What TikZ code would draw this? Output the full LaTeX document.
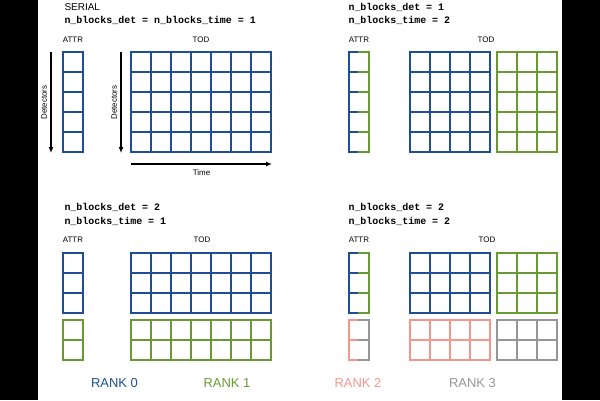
\documentclass[tikz,border=0pt]{standalone}
\usepackage{fontspec}
\setmainfont{Liberation Sans}
\setmonofont{Liberation Mono}
\usetikzlibrary{arrows.meta}

\definecolor{rankzero}{RGB}{31,78,150}
\definecolor{rankone}{RGB}{106,153,52}
\definecolor{ranktwo}{RGB}{243,150,140}
\definecolor{rankthree}{RGB}{150,150,150}

\newcommand{\cs}{20}
\newcommand{\hc}{10}

% colour, left, top, columns, rows
\newcommand{\blockgrid}[5]{
  \foreach \ci in {0,...,#4}{
    \draw[cell,#1] ({#2+\ci*\cs},#3) -- ++(0,{#5*\cs});
  }
  \foreach \ri in {0,...,#5}{
    \draw[cell,#1] (#2,{#3+\ri*\cs}) -- ++({#4*\cs},0);
  }
}

% left colour, right colour, left, top, rows
\newcommand{\splitcol}[5]{
  \draw[cell,#1] (#3,#4) -- (#3,{#4+#5*\cs});
  \draw[cell,#2] ({#3+\cs},#4) -- ({#3+\cs},{#4+#5*\cs});
  \foreach \ri in {0,...,#5}{
    \draw[cell,#1] (#3,{#4+\ri*\cs}) -- ++(\hc,0);
    \draw[cell,#2] ({#3+\hc},{#4+\ri*\cs}) -- ++(\hc,0);
  }
}

\tikzset{
  cell/.style={line width=2bp, line cap=rect},
  title/.style={anchor=west, font=\fontsize{10}{12}\selectfont},
  param/.style={anchor=west, font=\fontsize{10}{12}\selectfont\ttfamily\bfseries},
  small/.style={font=\fontsize{8}{9}\selectfont},
  rank/.style={font=\fontsize{13}{15}\selectfont},
  axis/.style={-{Latex[length=6pt,width=5pt]}, line width=1.4bp}
}

\begin{document}
\begin{tikzpicture}[x=1bp,y=-1bp]
    \useasboundingbox (0,0) rectangle (600,400);
    \fill[black] (0,0) rectangle (38,400);
    \fill[black] (562,0) rectangle (600,400);

    % serial
    \node[title] (serial) at (61,7) {SERIAL};
    \node[param] (serialpar) at (61,20.5) {n\_blocks\_det = n\_blocks\_time = 1};
    \node[small] (attrA) at (73,39.5) {ATTR};
    \node[small] (todA) at (201,39.5) {TOD};
    \blockgrid{rankzero}{63}{52}{1}{5}
    \blockgrid{rankzero}{131}{52}{7}{5}
    \coordinate (detAtop) at (51,52);
    \coordinate (detAbot) at (51,153);
    \draw[axis] (detAtop) -- (detAbot) node[midway, rotate=90, anchor=south, small]{Detectors};
    \coordinate (detBtop) at (121,52);
    \coordinate (detBbot) at (121,153);
    \draw[axis] (detBtop) -- (detBbot) node[midway, rotate=90, anchor=south, small]{Detectors};
    \coordinate (timeleft) at (131,164);
    \coordinate (timeright) at (272,164);
    \draw[axis] (timeleft) -- (timeright) node[midway, below=2pt, small]{Time};

    % 1 x 2
    \node[param] (pardetB) at (345,7) {n\_blocks\_det = 1};
    \node[param] (partimeB) at (345,20.5) {n\_blocks\_time = 2};
    \node[small] (attrB) at (359,39.5) {ATTR};
    \node[small] (todB) at (486,39.5) {TOD};
    \splitcol{rankzero}{rankone}{349}{52}{5}
    \blockgrid{rankzero}{410}{52}{4}{5}
    \blockgrid{rankone}{497}{52}{3}{5}

    % 2 x 1
    \node[param] (pardetC) at (61,207) {n\_blocks\_det = 2};
    \node[param] (partimeC) at (61,221) {n\_blocks\_time = 1};
    \node[small] (attrC) at (73,240) {ATTR};
    \node[small] (todC) at (202,240) {TOD};
    \blockgrid{rankzero}{63}{253}{1}{3}
    \blockgrid{rankone}{63}{320}{1}{2}
    \blockgrid{rankzero}{131}{253}{7}{3}
    \blockgrid{rankone}{131}{320}{7}{2}

    % 2 x 2
    \node[param] (pardetD) at (345,207) {n\_blocks\_det = 2};
    \node[param] (partimeD) at (345,221) {n\_blocks\_time = 2};
    \node[small] (attrD) at (359,240) {ATTR};
    \node[small] (todD) at (487,240) {TOD};
    \splitcol{rankzero}{rankone}{349}{253}{3}
    \splitcol{ranktwo}{rankthree}{349}{320}{2}
    \blockgrid{rankzero}{410}{253}{4}{3}
    \blockgrid{rankone}{497}{253}{3}{3}
    \blockgrid{ranktwo}{410}{320}{4}{2}
    \blockgrid{rankthree}{497}{320}{3}{2}

    % legend
    \node[rank, rankzero] (rank0) at (114.5,383) {RANK 0};
    \node[rank, rankone] (rank1) at (227,383) {RANK 1};
    \node[rank, ranktwo] (rank2) at (358,383) {RANK 2};
    \node[rank, rankthree] (rank3) at (472.5,383) {RANK 3};
\end{tikzpicture}
\end{document}
